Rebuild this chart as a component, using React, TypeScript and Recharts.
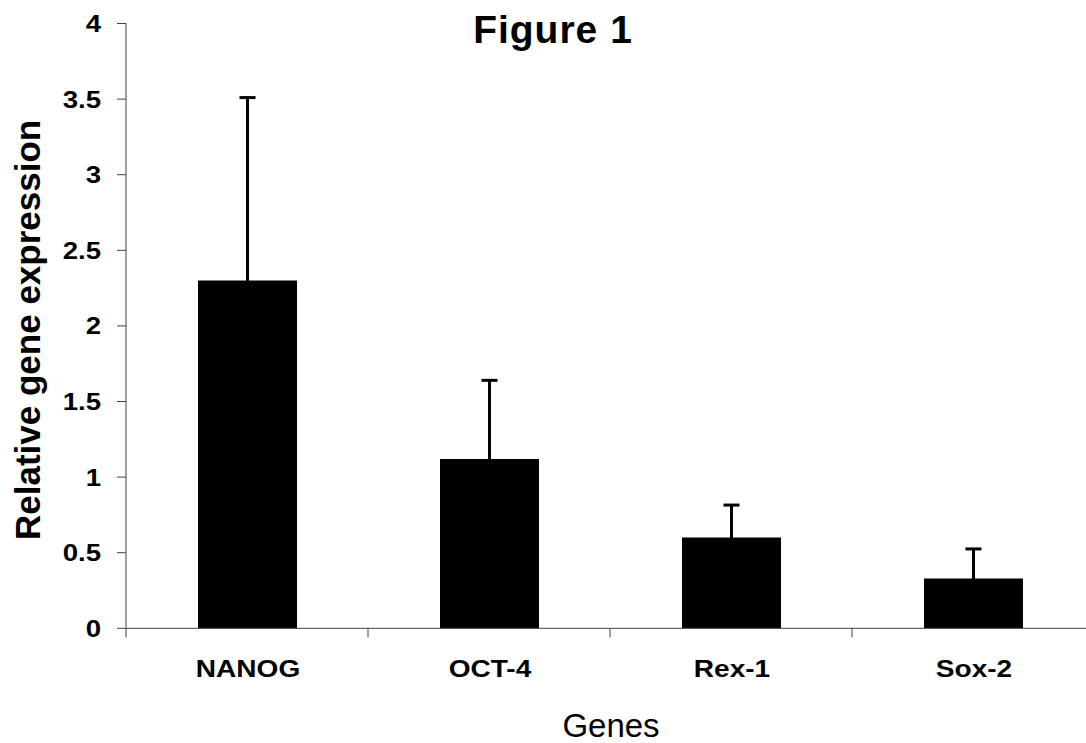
import { BarChart, Bar, XAxis, YAxis, ErrorBar, Label } from 'recharts';

const genes = ['NANOG', 'OCT-4', 'Rex-1', 'Sox-2'];
const expression = [2.3, 1.12, 0.6, 0.33];
const upperError = [1.21, 0.52, 0.215, 0.195];
// lower whisker kept inside the bar so only the upward bar shows
const lowerError = [0.02, 0.02, 0.02, 0.02];
const yTicks = [0, 0.5, 1, 1.5, 2, 2.5, 3, 3.5, 4];

const data = genes.map((gene, i) => ({
    gene,
    value: expression[i],
    err: [lowerError[i], upperError[i]],
}));

const CHART_W = 1094;
const CHART_H = 743;
const Y_AXIS_W = 126;
const X_AXIS_H = 114.7;
const TOP = 23.5;
const BAND = (CHART_W - Y_AXIS_W) / genes.length;
const AXIS = '#404040';
const FONT = '"Liberation Sans", Arial, sans-serif';

function GeneTick({ x, y, payload, index }: any) {
    const left = x - BAND / 2;
    const right = x + BAND / 2;
    return (
        <g>
            <line x1={left} y1={y} x2={left} y2={y + 9} stroke={AXIS} />
            {index === genes.length - 1 && (
                <line x1={right} y1={y} x2={right} y2={y + 9} stroke={AXIS} />
            )}
            <text
                x={0}
                y={0}
                transform={`translate(${x + 1},${y + 49}) scale(1.22,1)`}
                textAnchor="middle"
                fontFamily={FONT}
                fontWeight="bold"
                fontSize={23}
                fill="#000"
            >
                {payload.value}
            </text>
        </g>
    );
}

function ValueTick({ x, y, payload }: any) {
    return (
        <text
            x={0}
            y={0}
            transform={`translate(${x},${y + 8.5}) scale(1.2,1)`}
            textAnchor="end"
            fontFamily={FONT}
            fontWeight="bold"
            fontSize={23}
            fill="#000"
        >
            {payload.value}
        </text>
    );
}

const YTitle = ({ viewBox }: any) => {
    const cy = viewBox.y + viewBox.height / 2 + 4;
    return (
        <text
            x={40}
            y={cy}
            transform={`rotate(-90, 40, ${cy})`}
            textAnchor="middle"
            fontFamily={FONT}
            fontWeight="bold"
            fontSize={35}
            fill="#000"
        >
            Relative gene expression
        </text>
    );
};

const FigureTitle = () => (
    <text
        x={553}
        y={43}
        textAnchor="middle"
        fontFamily={FONT}
        fontWeight="bold"
        fontSize={39}
        letterSpacing={1}
        fill="#000"
    >
        Figure 1
    </text>
);

const XTitle = ({ viewBox }: any) => (
    <text
        x={viewBox.x + viewBox.width / 2 + 1}
        y={viewBox.y + 108.5}
        textAnchor="middle"
        fontFamily={FONT}
        fontSize={33}
        fill="#000"
    >
        Genes
    </text>
);

export default function App() {
    return (
        <div
            style={{
                position: 'absolute',
                left: 0,
                top: 0,
                width: 1086,
                height: 743,
                overflow: 'hidden',
                background: '#fff',
            }}
        >
            <BarChart
                width={CHART_W}
                height={CHART_H}
                data={data}
                margin={{ top: TOP, right: 0, bottom: 0, left: 0 }}
                barSize={99}
            >
                <XAxis
                    dataKey="gene"
                    height={X_AXIS_H}
                    stroke={AXIS}
                    tickLine={false}
                    tickSize={0}
                    tickMargin={0}
                    tick={<GeneTick />}
                    interval={0}
                >
                    <Label content={<XTitle />} />
                </XAxis>
                <YAxis
                    width={Y_AXIS_W}
                    domain={[0, 4]}
                    ticks={yTicks}
                    stroke={AXIS}
                    tickSize={9}
                    tickMargin={16}
                    tick={<ValueTick />}
                    interval={0}
                >
                    <Label content={<YTitle />} />
                    <Label content={<FigureTitle />} />
                </YAxis>
                <Bar dataKey="value" fill="#000" isAnimationActive={false}>
                    <ErrorBar
                        dataKey="err"
                        direction="y"
                        width={8}
                        strokeWidth={3}
                        stroke="#000"
                    />
                </Bar>
            </BarChart>
        </div>
    );
}
